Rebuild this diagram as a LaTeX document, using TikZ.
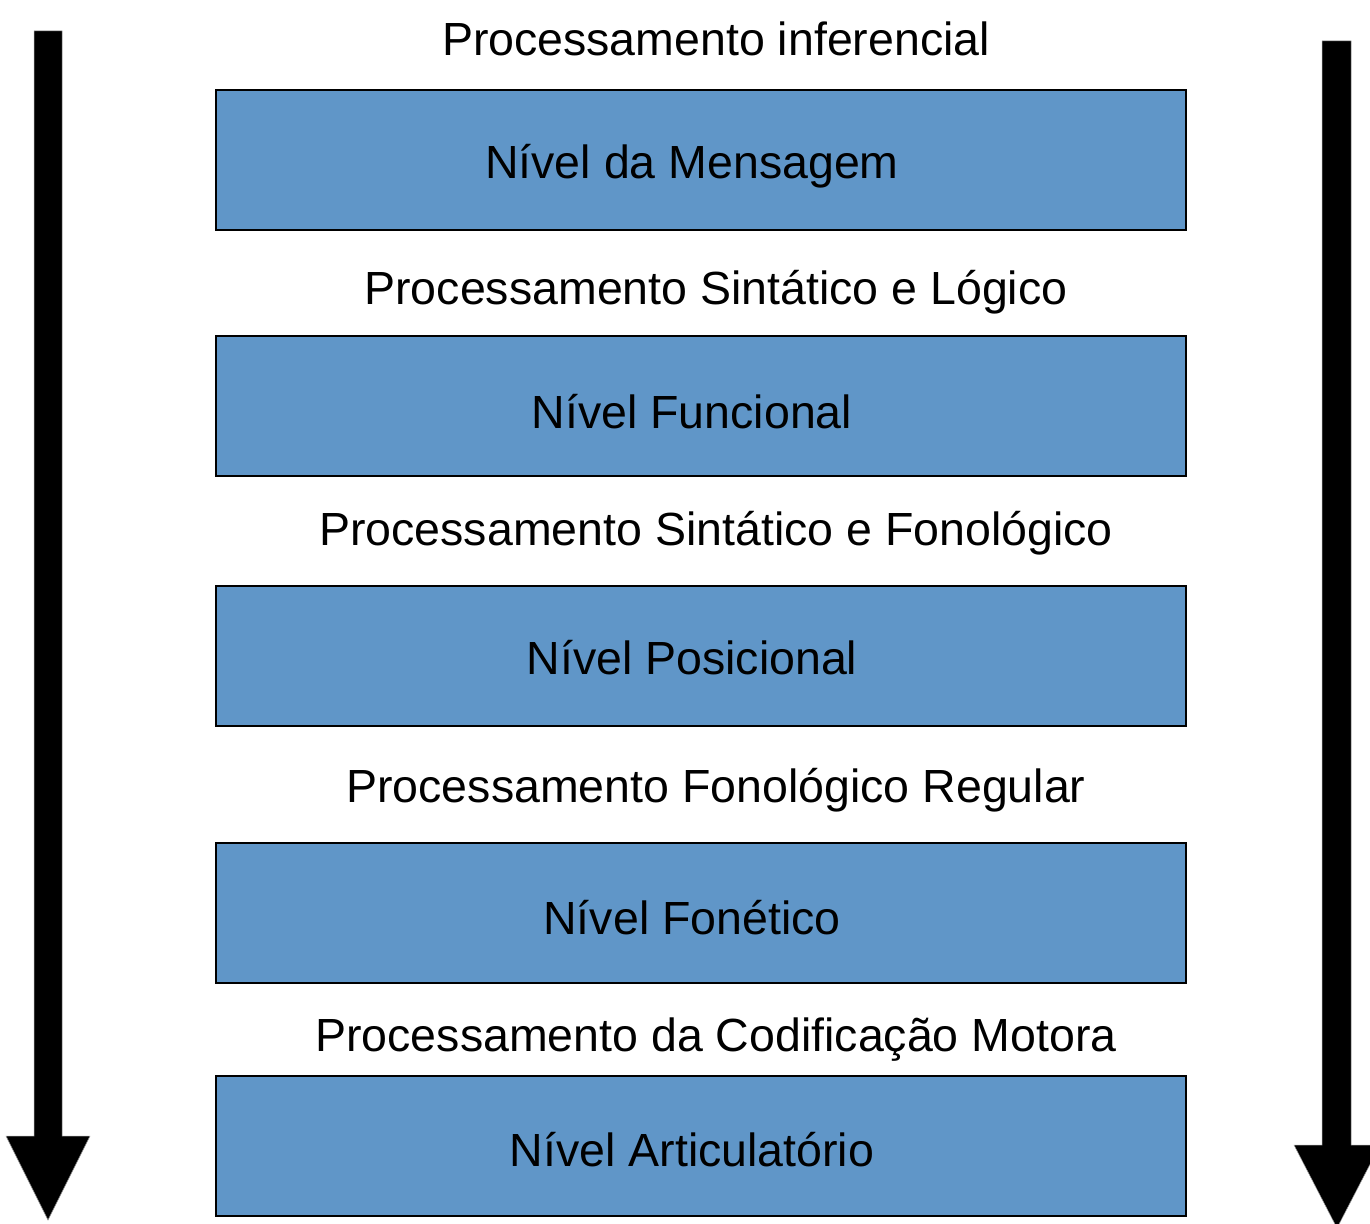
\documentclass[tikz,border=0pt]{standalone}
\usepackage{fontspec}
\setmainfont{Liberation Sans}
\definecolor{boxblue}{RGB}{96,150,200}
\begin{document}
\begin{tikzpicture}[x=1pt,y=-1pt,
  level/.style={draw=black,line width=2.2pt,fill=boxblue,minimum width=970pt,minimum height=140pt,inner sep=0pt,anchor=north west},
  ltext/.style={font=\fontsize{46.5}{54}\selectfont,inner sep=0pt},
  ptext/.style={font=\fontsize{46.5}{54}\selectfont,inner sep=0pt},
  bigarrow/.style={fill=black,draw=black!40,line width=0.5pt}]
\useasboundingbox (0,0) rectangle (1370,1223);
% arrows
\fill[bigarrow] (34,31) -- (62,31) -- (62,1136) -- (90,1136) -- (48,1220) -- (6,1136) -- (34,1136) -- cycle;
\fill[bigarrow] (1322,41) -- (1351,41) -- (1351,1145) -- (1380,1145) -- (1337,1228) -- (1294,1145) -- (1322,1145) -- cycle;
% boxes
\node[level] (b1) at (215,89) {};
\node[level] (b2) at (215,335) {};
\node[level] (b3) at (215,585) {};
\node[level] (b4) at (215,842) {};
\node[level] (b5) at (215,1075) {};
\node[ltext] (t1) at (692,166) {Nível da Mensagem};
\node[ltext] (t2) at (692,412) {Nível Funcional};
\node[ltext] (t3) at (692,658) {Nível Posicional};
\node[ltext] (t4) at (692,918) {Nível Fonético};
\node[ltext] (t5) at (692,1150) {Nível Articulatório};
\node[ptext] (p0) at (716,39) {Processamento inferencial};
\node[ptext] (p1) at (716,292) {Processamento Sintático e Lógico};
\node[ptext] (p2) at (716,533) {Processamento Sintático e Fonológico};
\node[ptext] (p3) at (716,790) {Processamento Fonológico Regular};
\node[ptext] (p4) at (716,1040) {Processamento da Codificação Motora};
\end{tikzpicture}
\end{document}
